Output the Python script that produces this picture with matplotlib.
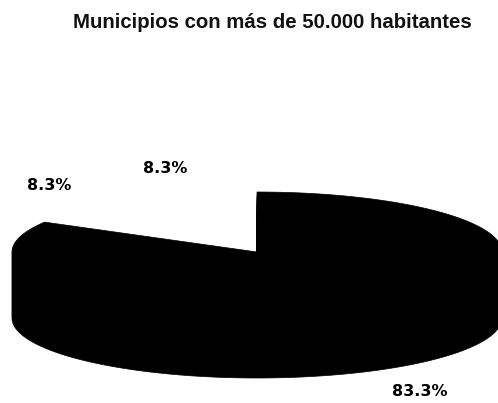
import numpy as np
import matplotlib
matplotlib.use("Agg")
import matplotlib.pyplot as plt

# pie data
labels = ["83.3%", "8.3%", "8.3%"]
values = [83.3, 8.35, 8.35]

W, H = 498, 403
fig = plt.figure(figsize=(W / 100, H / 100), dpi=100)
ax = fig.add_axes([0, 0, 1, 1])
ax.set_xlim(0, W)
ax.set_ylim(H, 0)
ax.axis("off")

cx, cy = 257, 252   # pie centre in pixels
rx, ry = 245, 60
depth = 66

# start at 12 o'clock, go clockwise
fracs = np.cumsum([0] + values) / sum(values)
t = np.linspace(0, fracs[1] * 2 * np.pi, 300)
x = cx + rx * np.sin(t)
y = cy - ry * np.cos(t)

# side wall of the visible lower rim
for d in range(0, depth + 1, 3):
    ax.fill(np.r_[cx, x], np.r_[cy + d, y + d], color="black", lw=0.5)

ax.text(272, 28, "Municipios con más de 50.000 habitantes", ha="center", va="baseline",
        fontsize=14.7, fontweight="bold", family="Liberation Sans", color="#111111")
ax.text(420, 392, labels[0], ha="center", va="center", fontsize=11.5, fontweight="bold", family="DejaVu Sans")
ax.text(165, 168.5, labels[1], ha="center", va="center", fontsize=11.5, fontweight="bold", family="DejaVu Sans")
ax.text(49.5, 185, labels[2], ha="center", va="center", fontsize=11.5, fontweight="bold", family="DejaVu Sans")

fig.savefig("out.png", dpi=100)
